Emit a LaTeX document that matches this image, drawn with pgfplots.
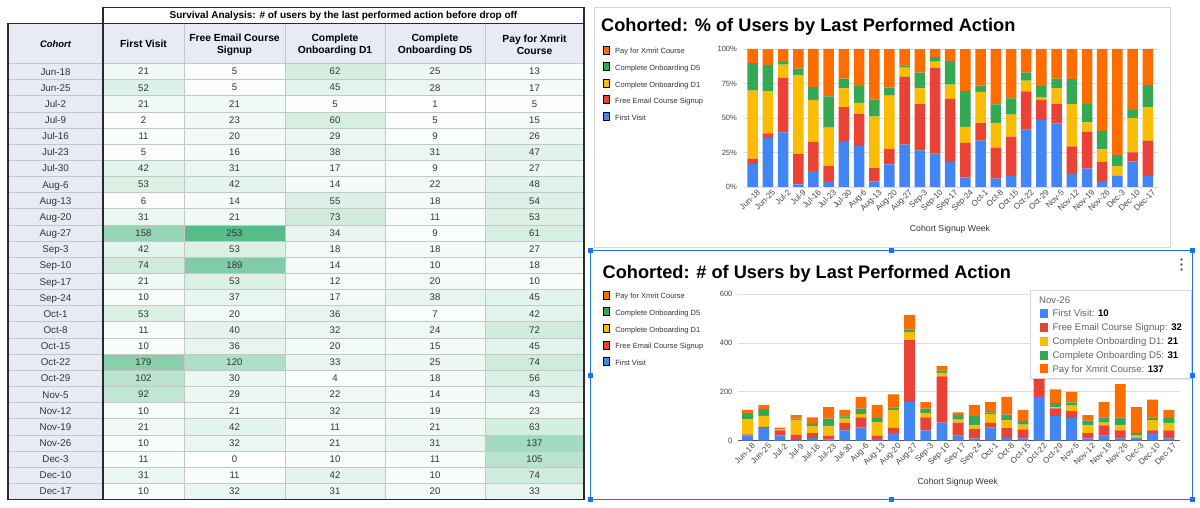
\documentclass[border=0pt]{standalone}
\usepackage{pgfplots}
\pgfplotsset{compat=1.18}
\usepackage{pgfplotstable}
\usepackage{fontspec}
\setmainfont{Liberation Sans}
\definecolor{cFV}{HTML}{4285F4}
\definecolor{cFE}{HTML}{EA4335}
\definecolor{cDa}{HTML}{FBBC04}
\definecolor{cDb}{HTML}{34A853}
\definecolor{cPay}{HTML}{FF6D01}
\definecolor{gsgreen}{HTML}{57BB8A}
\definecolor{lav}{HTML}{E8EAF6}
\definecolor{gridc}{HTML}{DDDDDD}
\definecolor{basec}{HTML}{555555}
\definecolor{txt}{HTML}{333333}
\definecolor{tickc}{HTML}{444444}
\definecolor{cellline}{HTML}{C6C6C6}
\definecolor{darkline}{HTML}{2A2A2A}
\definecolor{selblue}{HTML}{1A73E8}
\definecolor{tipgray}{HTML}{5F6368}
\definecolor{boxgray}{HTML}{D6D6D6}
\newcommand{\fs}[2]{\fontsize{#1}{#2}\selectfont}
\pgfdeclareplotmark{blank}{}
\pgfplotsset{/pgf/number format/assume math mode=true,
  cellplot/.style={only marks, mark=blank, nodes near coords,
     every node near coord/.append style={anchor=center, inner sep=0pt,
        minimum width=#1pt, minimum height=16.15pt, fill=gsgreen!\pct!white,
        text=txt, font=\fs{9.6}{11}}},
  chartstyle/.style={
    axis line style={draw=none}, major tick length=0pt, tick style={draw=none},
    ymajorgrids, grid style={draw=gridc, line width=0.7pt},
    yticklabel style={font=\fs{7.6}{9}, text=tickc},
    xticklabel style={font=\fs{8.2}{9}, text=tickc, xshift=4pt, yshift=-1pt, rotate=45, anchor=north east, inner sep=0.5pt},
    xlabel style={anchor=center, font=\fs{8.7}{10}, text=txt},
    legend style={anchor=north west, draw=none, fill=none, inner sep=0pt,
       /tikz/row sep=6.9pt, /tikz/column sep=6.2pt,
       nodes={inner sep=0pt, font=\fs{7.5}{9}, text=txt}},
    legend cell align=left, reverse legend,
    legend image code/.code={\fill[##1] (0pt,-3.7pt) rectangle (7.8pt,3.7pt);},
  }
}
\newcommand{\cohorts}{Jun-18,Jun-25,Jul-2,Jul-9,Jul-16,Jul-23,Jul-30,Aug-6,Aug-13,Aug-20,Aug-27,Sep-3,Sep-10,Sep-17,Sep-24,Oct-1,Oct-8,Oct-15,Oct-22,Oct-29,Nov-5,Nov-12,Nov-19,Nov-26,Dec-3,Dec-10,Dec-17}

\pgfplotstableread{
x fv fe d1 d5 pay
0 21 5 62 25 13
1 52 5 45 28 17
2 21 21 5 1 5
3 2 23 60 5 15
4 11 20 29 9 26
5 5 16 38 31 47
6 42 31 17 9 27
7 53 42 14 22 48
8 6 14 55 18 54
9 31 21 73 11 53
10 158 253 34 9 61
11 42 53 18 18 27
12 74 189 14 10 18
13 21 53 12 20 10
14 10 37 17 38 45
15 53 20 36 7 42
16 11 40 32 24 72
17 10 36 20 15 45
18 179 120 33 25 74
19 102 30 4 18 56
20 92 29 22 14 43
21 10 21 32 19 23
22 21 42 11 21 63
23 10 32 21 31 137
24 11 0 10 11 105
25 31 11 42 10 74
26 10 32 31 20 33
}\counttable

\pgfplotstableread{
x fv fe d1 d5 pay
0 16.67 3.97 49.21 19.84 10.32
1 35.37 3.40 30.61 19.05 11.56
2 39.62 39.62 9.43 1.89 9.43
3 1.90 21.90 57.14 4.76 14.29
4 11.58 21.05 30.53 9.47 27.37
5 3.65 11.68 27.74 22.63 34.31
6 33.33 24.60 13.49 7.14 21.43
7 29.61 23.46 7.82 12.29 26.82
8 4.08 9.52 37.41 12.24 36.73
9 16.40 11.11 38.62 5.82 28.04
10 30.68 49.13 6.60 1.75 11.84
11 26.58 33.54 11.39 11.39 17.09
12 24.26 61.97 4.59 3.28 5.90
13 18.10 45.69 10.34 17.24 8.62
14 6.80 25.17 11.56 25.85 30.61
15 33.54 12.66 22.78 4.43 26.58
16 6.15 22.35 17.88 13.41 40.22
17 7.94 28.57 15.87 11.90 35.71
18 41.53 27.84 7.66 5.80 17.17
19 48.57 14.29 1.90 8.57 26.67
20 46.00 14.50 11.00 7.00 21.50
21 9.52 20.00 30.48 18.10 21.90
22 13.29 26.58 6.96 13.29 39.87
23 4.33 13.85 9.09 13.42 59.31
24 8.03 0.00 7.30 8.03 76.64
25 18.45 6.55 25.00 5.95 44.05
26 7.94 25.40 24.60 15.87 26.19
}\pcttable

\begin{document}
\begin{tikzpicture}[x=1pt,y=1pt]
\path[use as bounding box] (0,0) rectangle (1200,508);
% ---------- table backgrounds
\begin{scope}[y=-1pt, shift={(0pt,508pt)}]
\fill[lav] (8,23.3) rectangle (584,63.5);
\fill[lav] (8,63.5) rectangle (103,499.55);
\end{scope}
% ---------- heatmap cells
\begin{axis}[at={(0pt,508pt)}, anchor=north west, scale only axis,
  width=1200pt, height=508pt, xmin=0, xmax=1200, ymin=0, ymax=508,
  y dir=reverse, hide axis, clip=false]
\addplot[cellplot=81, point meta=\thisrow{fv}, visualization depends on={\thisrow{fv}/2.53 \as \pct}] table[x expr=143.5, y expr=71.575+16.15*\thisrow{x}]{\counttable};
\addplot[cellplot=101, point meta=\thisrow{fe}, visualization depends on={\thisrow{fe}/2.53 \as \pct}] table[x expr=234.5, y expr=71.575+16.15*\thisrow{x}]{\counttable};
\addplot[cellplot=100, point meta=\thisrow{d1}, visualization depends on={\thisrow{d1}/2.53 \as \pct}] table[x expr=335, y expr=71.575+16.15*\thisrow{x}]{\counttable};
\addplot[cellplot=100, point meta=\thisrow{d5}, visualization depends on={\thisrow{d5}/2.53 \as \pct}] table[x expr=435, y expr=71.575+16.15*\thisrow{x}]{\counttable};
\addplot[cellplot=99, point meta=\thisrow{pay}, visualization depends on={\thisrow{pay}/2.53 \as \pct}] table[x expr=534.5, y expr=71.575+16.15*\thisrow{x}]{\counttable};
\end{axis}
% ---------- table lines and text
\begin{scope}[y=-1pt, shift={(0pt,508pt)}]
\foreach \i in {0,...,26} \draw[cellline, line width=0.8pt] (8,{63.5+16.15*\i}) -- (584,{63.5+16.15*\i});
\foreach \xx in {184,285,385,485} \draw[cellline, line width=0.8pt] (\xx,23.3) -- (\xx,499.55);
\draw[darkline, line width=1.3pt] (8,23.3) rectangle (584,499.55);
\draw[darkline, line width=1.3pt] (103,7.3) rectangle (584,23.3);
\draw[darkline, line width=1.3pt] (103,7.3) -- (103,499.55);
\node[anchor=base, font=\bfseries\fs{10}{12}, text=black] at (343.5,19) {Survival Analysis: \# of users by the last performed action before drop off};
\node[font=\bfseries\itshape\fs{9.4}{12}, text=black] at (55.5,44) {Cohort};
\node[font=\bfseries\fs{10.3}{12.3}, text=black] at (143.5,44) {First Visit};
\node[font=\bfseries\fs{10.3}{12.3}, text=black, align=center] at (234.5,45) {Free Email Course\\Signup};
\node[font=\bfseries\fs{10.3}{12.3}, text=black, align=center] at (335,45) {Complete\\Onboarding D1};
\node[font=\bfseries\fs{10.3}{12.3}, text=black, align=center] at (435,45) {Complete\\Onboarding D5};
\node[font=\bfseries\fs{10.3}{12.3}, text=black, align=center] at (534.5,45) {Pay for Xmrit\\Course};
\foreach \c [count=\i from 0] in \cohorts { \node[anchor=base, font=\fs{9.8}{11}, text=txt] at (55.5,{75.1+16.15*\i}) {\c}; }
% chart frames and titles
\draw[boxgray, line width=0.8pt] (594,7) rectangle (1170,247);
\node[anchor=base west, inner sep=0pt, font=\bfseries\fs{18.2}{20}, text=black] at (601,31.7) {Cohorted: \% of Users by Last Performed Action};
\node[anchor=base west, inner sep=0pt, font=\bfseries\fs{18.2}{20}, text=black] at (602.5,278.3) {Cohorted: \# of Users by Last Performed Action};
\foreach \dy in {259.5,264.5,269.5} \fill[tickc!80] (1181.5,\dy) circle (1.3pt);
\end{scope}
% ---------- percent chart
\begin{axis}[at={(744pt,321pt)}, anchor=south west, scale only axis,
  width=414pt, height=138pt, chartstyle,
  ybar stacked, bar width=10.5pt,
  xmin=-0.57, xmax=26.67, ymin=0, ymax=100,
  ytick={0,25,50,75,100}, yticklabel={\pgfmathprintnumber{\tick}\%},
  yticklabel style={xshift=-3.5pt},
  xtick={0,...,26},
  xticklabels={Jun-18,Jun-25,Jul-2,Jul-9,Jul-16,Jul-23,Jul-30,Aug-6,Aug-13,Aug-20,Aug-27,Sep-3,Sep-10,Sep-17,Sep-24,Oct-1,Oct-8,Oct-15,Oct-22,Oct-29,Nov-5,Nov-12,Nov-19,Nov-26,Dec-3,Dec-10,Dec-17},
  xlabel={Cohort Signup Week},
  xlabel style={at={(axis description cs:0.4976,-0.304)}},
  legend style={at={(axis description cs:-0.342,1.025)}},
]
\addplot[fill=cFV, draw=none] table[x=x, y=fv]{\pcttable};
\addlegendentry{First Visit}
\addplot[fill=cFE, draw=none] table[x=x, y=fe]{\pcttable};
\addlegendentry{Free Email Course Signup}
\addplot[fill=cDa, draw=none] table[x=x, y=d1]{\pcttable};
\addlegendentry{Complete Onboarding D1}
\addplot[fill=cDb, draw=none] table[x=x, y=d5]{\pcttable};
\addlegendentry{Complete Onboarding D5}
\addplot[fill=cPay, draw=none] table[x=x, y=pay]{\pcttable};
\addlegendentry{Pay for Xmrit Course}
\draw[basec, line width=0.9pt] (rel axis cs:0,0) -- (rel axis cs:1,0);
\end{axis}
% ---------- count chart
\begin{axis}[at={(738pt,67.3pt)}, anchor=south west, scale only axis,
  width=441.5pt, height=146.7pt, chartstyle,
  ybar stacked, bar width=10.9pt,
  xmin=-0.59, xmax=26.66, ymin=0, ymax=600,
  ytick={0,200,400,600},
  yticklabel style={xshift=-2pt},
  xtick={0,...,26},
  xticklabels={Jun-18,Jun-25,Jul-2,Jul-9,Jul-16,Jul-23,Jul-30,Aug-6,Aug-13,Aug-20,Aug-27,Sep-3,Sep-10,Sep-17,Sep-24,Oct-1,Oct-8,Oct-15,Oct-22,Oct-29,Nov-5,Nov-12,Nov-19,Nov-26,Dec-3,Dec-10,Dec-17},
  xlabel={Cohort Signup Week},
  xlabel style={at={(axis description cs:0.4977,-0.286)}},
  legend style={at={(axis description cs:-0.307,1.023)}},
]
\addplot[fill=cFV, draw=none] table[x=x, y=fv]{\counttable};
\addlegendentry{First Visit}
\addplot[fill=cFE, draw=none] table[x=x, y=fe]{\counttable};
\addlegendentry{Free Email Course Signup}
\addplot[fill=cDa, draw=none] table[x=x, y=d1]{\counttable};
\addlegendentry{Complete Onboarding D1}
\addplot[fill=cDb, draw=none] table[x=x, y=d5]{\counttable};
\addlegendentry{Complete Onboarding D5}
\addplot[fill=cPay, draw=none] table[x=x, y=pay]{\counttable};
\addlegendentry{Pay for Xmrit Course}
\draw[basec, line width=0.9pt] (rel axis cs:0,0) -- (rel axis cs:1,0);
\end{axis}
% ---------- tooltip and selection frame
\begin{scope}[y=-1pt, shift={(0pt,508pt)}]
\fill[black, opacity=0.10] (1031,291.5) rectangle (1193,380.5);
\draw[boxgray, fill=white, line width=0.7pt] (1030,290) rectangle (1191.5,378);
\node[anchor=base west, inner sep=0pt, font=\fs{9.6}{11}, text=tipgray] at (1039,303.5) {Nov-26};
\node[anchor=base west, inner sep=0pt, font=\fs{9.6}{11}, text=tipgray] at (1039.3,316.7) {\textcolor{cFV}{\rule[-0.9pt]{8.6pt}{8.6pt}}\hspace{4.4pt}First Visit: \textcolor{black}{\bfseries 10}};
\node[anchor=base west, inner sep=0pt, font=\fs{9.6}{11}, text=tipgray] at (1039.3,330.9) {\textcolor{cFE}{\rule[-0.9pt]{8.6pt}{8.6pt}}\hspace{4.4pt}Free Email Course Signup: \textcolor{black}{\bfseries 32}};
\node[anchor=base west, inner sep=0pt, font=\fs{9.6}{11}, text=tipgray] at (1039.3,344.7) {\textcolor{cDa}{\rule[-0.9pt]{8.6pt}{8.6pt}}\hspace{4.4pt}Complete Onboarding D1: \textcolor{black}{\bfseries 21}};
\node[anchor=base west, inner sep=0pt, font=\fs{9.6}{11}, text=tipgray] at (1039.3,358.7) {\textcolor{cDb}{\rule[-0.9pt]{8.6pt}{8.6pt}}\hspace{4.4pt}Complete Onboarding D5: \textcolor{black}{\bfseries 31}};
\node[anchor=base west, inner sep=0pt, font=\fs{9.6}{11}, text=tipgray] at (1039.3,372.1) {\textcolor{cPay}{\rule[-0.9pt]{8.6pt}{8.6pt}}\hspace{4.4pt}Pay for Xmrit Course: \textcolor{black}{\bfseries 137}};
\draw[selblue, line width=1pt] (590.5,251) rectangle (1192,500);
\foreach \hx/\hy in {590.5/251, 891/251, 1192/251, 590.5/375.5, 1192/375.5, 590.5/500, 891/500, 1192/500}
  \fill[selblue] ({\hx-2.5},{\hy-2.5}) rectangle ({\hx+2.5},{\hy+2.5});
\end{scope}
\end{tikzpicture}
\end{document}
